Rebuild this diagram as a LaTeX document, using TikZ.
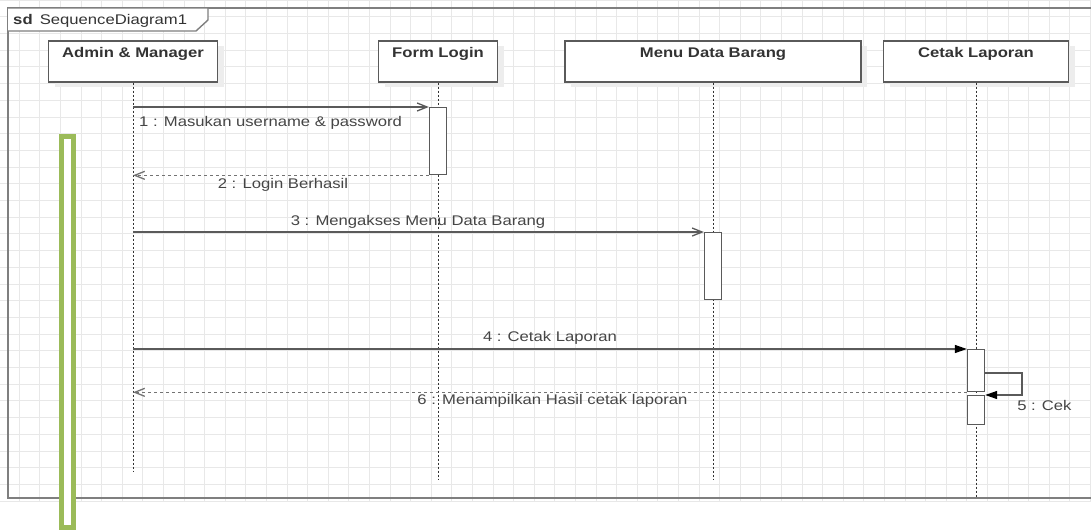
\documentclass[tikz,border=0pt]{standalone}
\usepackage{fontspec}
\setmainfont{Liberation Sans}
\usetikzlibrary{arrows.meta}
\definecolor{gridc}{HTML}{E8E8E8}
\definecolor{linec}{HTML}{5A5A5A}
\definecolor{framec}{HTML}{7F7F7F}
\definecolor{textc}{HTML}{454545}
\definecolor{titlec}{HTML}{333333}
\definecolor{hilite}{HTML}{9BBB59}
\definecolor{shadowc}{HTML}{EDEDED}

\begin{document}
\begin{tikzpicture}[x=1pt,y=-1pt,
  lbl/.style={font=\fontsize{14}{16}\selectfont, text=textc, inner sep=0pt, xscale=1.19},
  ttl/.style={lbl, font=\fontsize{14}{16}\selectfont\bfseries, text=titlec},
  headbox/.style={draw=linec, line width=1.3pt, fill=white, minimum height=41pt, inner sep=0pt},
  hshadow/.style={fill=shadowc, draw=none, minimum height=41pt, inner sep=0pt},
  actbox/.style={draw=linec, line width=1.3pt, fill=white, inner sep=0pt, minimum width=17pt},
  life/.style={draw=black!80, line width=0.8pt, dash pattern=on 2pt off 2pt},
  call/.style={draw=linec, line width=1.3pt, -{Straight Barb[length=10pt,width=8pt]}},
  sync/.style={draw=linec, line width=1.3pt, -{Triangle[length=12pt,width=8pt,fill=black,color=black]}},
  reply/.style={draw=linec!85, line width=1.3pt, dash pattern=on 3pt off 3pt, -{Straight Barb[length=10pt,width=8pt]}},
]
\useasboundingbox (0,0) rectangle (1091,531);
\clip (0,0) rectangle (1091,531);
\fill[white] (0,0) rectangle (1091,531);

% background grid
\foreach \i in {0,...,53} \draw[gridc, line width=0.8pt] ({-1.4+20.6*\i},0) -- ++(0,502);
\foreach \j in {0,...,30} \draw[gridc, line width=0.8pt] (0,{16.7*\j}) -- ++(1091,0);

% frame and its tab
\draw[framec, line width=1.6pt] (8,8) rectangle (1110,498);
\draw[framec, line width=1.4pt, fill=white] (8,8) -- (208,8) -- (208,20) -- (196,31) -- (8,31);
\node[lbl, anchor=west, text=titlec] (tabtxt) at (13,21) {\textbf{sd}\hspace{6pt}SequenceDiagram1};

% lifeline heads with soft shadows
\node[hshadow, minimum width=169pt] (adminS) at (139,66.5) {};
\node[hshadow, minimum width=119pt] (formS) at (444,66.5) {};
\node[hshadow, minimum width=296pt] (menuS) at (719,66.5) {};
\node[hshadow, minimum width=185pt] (cetakS) at (982,66.5) {};

\node[headbox, minimum width=169pt] (admin) at (133,61.5) {};
\node[headbox, minimum width=119pt] (form) at (438,61.5) {};
\node[headbox, minimum width=296pt] (menu) at (713,61.5) {};
\node[headbox, minimum width=185pt] (cetak) at (976,61.5) {};

\node[ttl] (adminT) at (133,54) {Admin \& Manager};
\node[ttl] (formT) at (438,54) {Form Login};
\node[ttl] (menuT) at (713,54) {Menu Data Barang};
\node[ttl] (cetakT) at (976,54) {Cetak Laporan};

% lifelines
\coordinate (adminEnd) at (133,472);
\coordinate (formEnd) at (438,479);
\coordinate (menuEnd) at (713,479);
\coordinate (cetakEnd) at (976,498);
\draw[life] (admin.south) -- (adminEnd);
\draw[life] (form.south) -- (formEnd);
\draw[life] (menu.south) -- (menuEnd);
\draw[life] (cetak.south) -- (cetakEnd);

% activation bars
\node[actbox, minimum height=67pt, anchor=north] (actForm) at (438,107) {};
\node[actbox, minimum height=67pt, anchor=north] (actMenu) at (713,232) {};
\node[actbox, minimum height=42pt, anchor=north] (actCetakA) at (976,349) {};
\node[actbox, minimum height=29pt, anchor=north] (actCetakB) at (976,395) {};

% messages
\draw[call] (admin.south |- actForm.north) -- (actForm.north west);
\draw[reply] (actForm.south west) -- (admin.south |- actForm.south);
\draw[call] (admin.south |- actMenu.north) -- (actMenu.north west);
\draw[sync] (admin.south |- actCetakA.north) -- (actCetakA.north west);
\coordinate (selfTop) at (1022,373);
\draw[sync] (actCetakA.east |- selfTop) -- (selfTop) -- (selfTop |- actCetakB.north) -- (actCetakB.north east);
\draw[reply] (actCetakA.south west) -- (admin.south |- actCetakA.south);

% message labels
\node[lbl, anchor=west] (l1) at (139,123) {1 : Masukan username \& password};
\node[lbl] (l2) at (283,185) {2 : Login Berhasil};
\node[lbl] (l3) at (418,222) {3 : Mengakses Menu Data Barang};
\node[lbl] (l4) at (550,338) {4 : Cetak Laporan};
\node[lbl, anchor=west] (l5) at (1017,405) {5 : Cek};
\node[lbl] (l6) at (552.5,401) {6 : Menampilkan Hasil cetak laporan};

% green marker bar
\draw[hilite, line width=4.5pt, fill=white] (61.5,136.5) rectangle (73.5,527.5);
\end{tikzpicture}
\end{document}
